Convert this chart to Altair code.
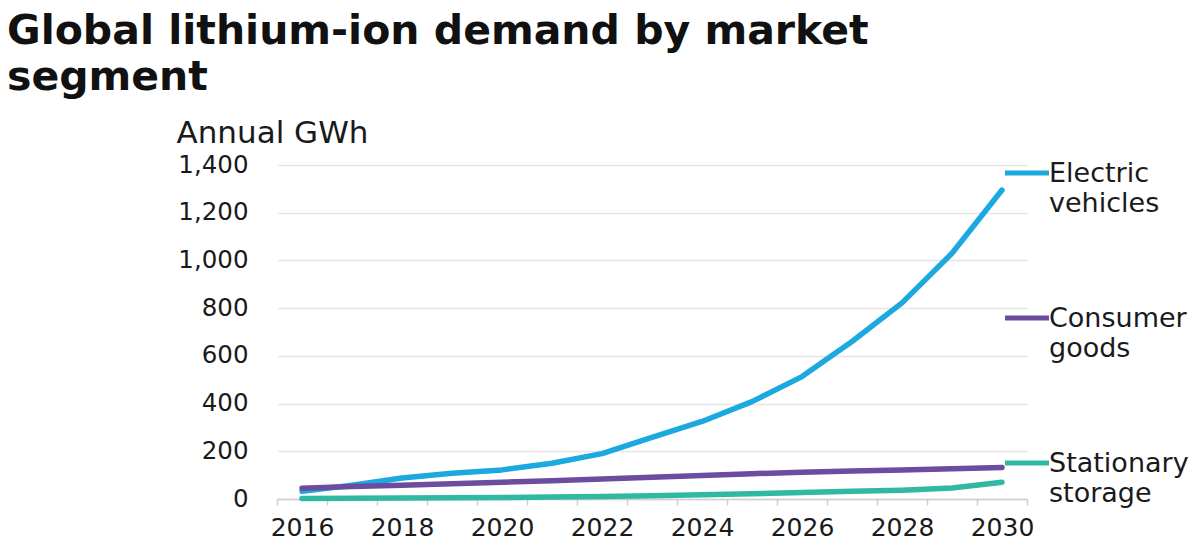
import altair as alt
import pandas as pd

# Annual lithium-ion demand (GWh) by market segment, 2016-2030
years = list(range(2016, 2031))
electric_vehicles = [32, 58, 88, 108, 122, 150, 190, 258, 325, 408, 513, 660, 822, 1030, 1295]
consumer_goods = [45, 52, 58, 64, 70, 77, 84, 91, 98, 106, 112, 117, 122, 127, 132]
stationary_storage = [2, 3, 4, 5, 6, 8, 10, 14, 18, 22, 27, 32, 37, 46, 70]

series_names = ["Electric vehicles", "Consumer goods", "Stationary storage"]
legend_text = ["Electric\nvehicles", "Consumer\ngoods", "Stationary\nstorage"]
series_colors = ["#1ca9e0", "#6b4c9e", "#2fb9a0"]
y_ticks = [0, 200, 400, 600, 800, 1000, 1200, 1400]

FONT = "DejaVu Sans"

rows = []
for name, values in zip(series_names, [electric_vehicles, consumer_goods, stationary_storage]):
    for yr, v in zip(years, values):
        rows.append({"year": yr, "gwh": v, "series": name})
df = pd.DataFrame(rows)
legend_df = pd.DataFrame({"series": series_names, "label": legend_text})

color = alt.Color("series:N", scale=alt.Scale(domain=series_names, range=series_colors), legend=None)

# category boundaries carry the ticks; labels sit in the middle of each year
boundaries = [y - 0.5 for y in years] + [years[-1] + 0.5]

lines = alt.Chart(df).mark_line(strokeWidth=5.5, strokeCap="round", strokeJoin="round").encode(
    x=alt.X(
        "year:Q",
        scale=alt.Scale(domain=[years[0] - 0.5, years[-1] + 0.5], nice=False, zero=False),
        axis=alt.Axis(
            values=boundaries,
            labelExpr="(datum.value + 0.5) % 2 == 0 ? format(datum.value + 0.5, 'd') : ''",
            labelOffset=25,
            labelOverlap=False,
            labelFlush=False,
            labelBound=False,
            labelFont=FONT,
            labelFontSize=25,
            labelColor="#1a1a1a",
            labelPadding=10,
            tickSize=6,
            tickColor="#cfcfcf",
            tickWidth=1.5,
            domainColor="#cfcfcf",
            domainWidth=1.5,
            grid=False,
            title=None,
        ),
    ),
    y=alt.Y(
        "gwh:Q",
        scale=alt.Scale(domain=[0, 1400], nice=False),
        axis=alt.Axis(
            values=y_ticks,
            format=",d",
            domain=False,
            ticks=False,
            grid=True,
            gridColor="#e6e6e6",
            gridWidth=1.5,
            labelFont=FONT,
            labelFontSize=24.5,
            labelColor="#1a1a1a",
            labelPadding=29,
            title="Annual GWh",
            titleAngle=0,
            titleAlign="left",
            titleBaseline="alphabetic",
            titleX=-101,
            titleY=-23,
            titleFont=FONT,
            titleFontSize=31,
            titleFontWeight="normal",
            titleColor="#1a1a1a",
        ),
    ),
    color=color,
    order="year:Q",
)

legend_y = alt.Y(
    "series:N",
    scale=alt.Scale(type="point", domain=series_names, range=[8, 298], padding=0),
    axis=None,
)

legend_swatch = alt.Chart(legend_df).mark_rule(strokeWidth=5).encode(
    x=alt.value(728),
    x2=alt.value(772),
    y=legend_y,
    color=color,
)

legend_label = alt.Chart(legend_df).mark_text(
    align="left",
    baseline="alphabetic",
    dy=9,
    lineBreak="\n",
    lineHeight=30,
    font=FONT,
    fontSize=27,
    color="#1a1a1a",
).encode(
    x=alt.value(772),
    y=legend_y,
    text="label:N",
)

chart = (
    alt.layer(lines, legend_swatch, legend_label)
    .resolve_scale(y="independent")
    .properties(
        width=750,
        height=334,
        background="white",
        autosize=alt.AutoSizeParams(type="none"),
        padding={"left": 277, "top": 165, "right": 173, "bottom": 56},
        title=alt.Title(
            text=["Global lithium-ion demand by market", "segment"],
            anchor="start",
            frame="group",
            dx=-270,
            offset=18,
            font=FONT,
            fontSize=41,
            fontWeight="bold",
            color="#111111",
            lineHeight=46,
        ),
    )
    .configure_view(stroke="transparent", strokeWidth=0)
)

chart.save("out.html", embed_options={"renderer": "svg", "actions": False})
